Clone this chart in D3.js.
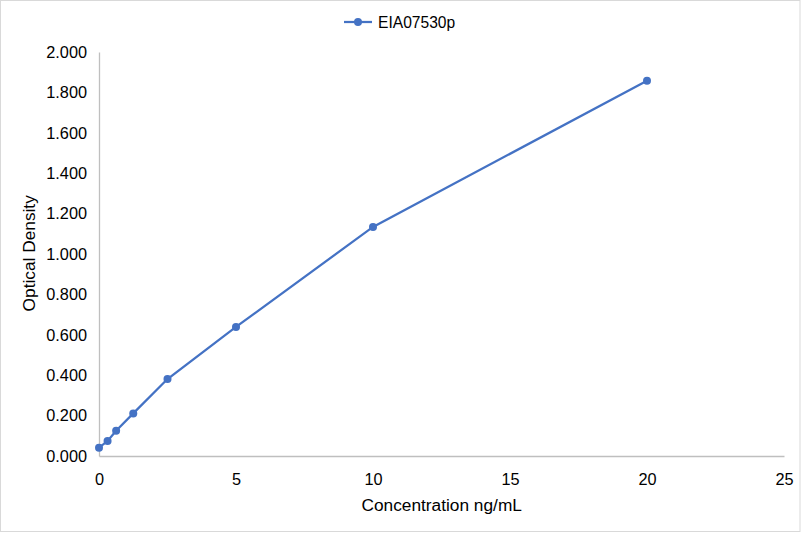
<!DOCTYPE html>
<html>
<head>
<meta charset="utf-8">
<script src="https://cdn.jsdelivr.net/npm/d3@7/dist/d3.min.js"></script>
<style>
body { margin: 0; background: #fff; }
text { font-family: "Liberation Sans", Arial, sans-serif; fill: #000; }
</style>
</head>
<body>
<svg id="chart" width="801" height="533"></svg>
<script>
const seriesName = "EIA07530p";
const concentrations = [0, 0.3125, 0.625, 1.25, 2.5, 5, 10, 20];
const odValues = [0.041, 0.074, 0.125, 0.211, 0.381, 0.639, 1.134, 1.858];
const xTicks = [0, 5, 10, 15, 20, 25];
const yTicks = [0, 0.2, 0.4, 0.6, 0.8, 1.0, 1.2, 1.4, 1.6, 1.8, 2.0];
const xTitle = "Concentration ng/mL";
const yTitle = "Optical Density";

const svg = d3.select("#chart");
const color = "#4472C4";

svg.append("rect").attr("x", 0.5).attr("y", 0.5).attr("width", 799.5).attr("height", 531)
  .attr("fill", "#fff").attr("stroke", "#d9d9d9").attr("stroke-width", 1);

const x = d3.scaleLinear().domain([0, 25]).range([99, 784]);
const y = d3.scaleLinear().domain([0, 2]).range([456, 52]);

// axes
const xAxis = svg.append("g").attr("transform", "translate(0,456)")
  .call(d3.axisBottom(x).tickValues(xTicks).tickSize(0).tickPadding(17).tickFormat(d3.format("d")));
xAxis.select(".domain").attr("stroke", "#bfbfbf").attr("stroke-width", 1.3);
xAxis.selectAll("text").attr("font-size", 16.3).attr("font-family", "Liberation Sans, Arial, sans-serif");

const yAxis = svg.append("g").attr("transform", "translate(99,0)")
  .call(d3.axisLeft(y).tickValues(yTicks).tickSize(0).tickPadding(12).tickFormat(d3.format(".3f")));
yAxis.select(".domain").attr("stroke", "#bfbfbf").attr("stroke-width", 1.3);
yAxis.selectAll("text").attr("font-size", 16.3).attr("font-family", "Liberation Sans, Arial, sans-serif");

// line
const data = concentrations.map((c, i) => ({ x: c, y: odValues[i] }));
svg.append("path").datum(data)
  .attr("fill", "none").attr("stroke", color).attr("stroke-width", 2.25)
  .attr("d", d3.line().x(d => x(d.x)).y(d => y(d.y)));
svg.selectAll("circle.pt").data(data).enter().append("circle")
  .attr("class", "pt").attr("cx", d => x(d.x)).attr("cy", d => y(d.y)).attr("r", 4)
  .attr("fill", color);

// titles
svg.append("text").attr("x", 441.7).attr("y", 511).attr("text-anchor", "middle")
  .attr("font-size", 17.3).text(xTitle);
svg.append("text").attr("transform", "translate(35,253.3) rotate(-90)").attr("text-anchor", "middle")
  .attr("font-size", 17.3).text(yTitle);

// legend
const lg = svg.append("g");
lg.append("line").attr("x1", 344).attr("x2", 372).attr("y1", 22).attr("y2", 22)
  .attr("stroke", color).attr("stroke-width", 2.25);
lg.append("circle").attr("cx", 358).attr("cy", 22).attr("r", 4).attr("fill", color);
lg.append("text").attr("x", 378).attr("y", 27.5).attr("font-size", 15.6).text(seriesName);
</script>
</body>
</html>
